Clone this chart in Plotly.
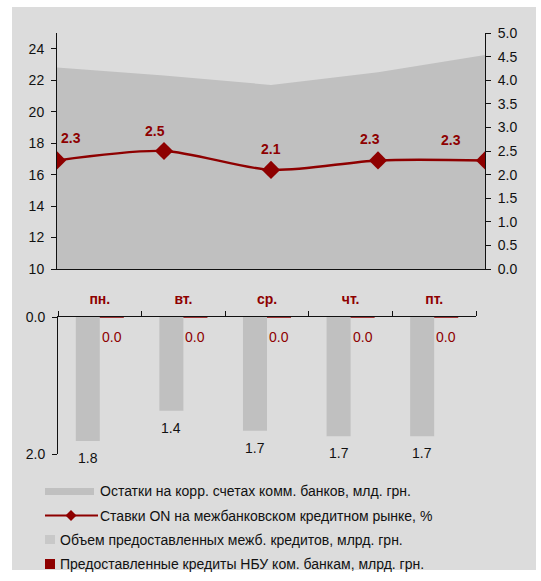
import plotly.graph_objects as go

# ---------------- data ----------------
days = ["пн.", "вт.", "ср.", "чт.", "пт."]
balances = [22.8, 22.3, 21.7, 22.5, 23.6]          # Остатки на корр. счетах, млрд грн (left axis)
on_rates = [2.3, 2.5, 2.1, 2.3, 2.3]               # Ставки ON, % (right axis)
interbank_volume = [1.81, 1.37, 1.66, 1.74, 1.74]  # Объем межб. кредитов
nbu_credits = [0.0, 0.0, 0.0, 0.0, 0.0]            # Кредиты НБУ

left_ticks = [10, 12, 14, 16, 18, 20, 22, 24]
right_ticks = [0.0, 0.5, 1.0, 1.5, 2.0, 2.5, 3.0, 3.5, 4.0, 4.5, 5.0]

legend_labels = [
    "Остатки на корр. счетах комм. банков, млд. грн.",
    "Ставки ON на межбанковском кредитном рынке, %",
    "Объем предоставленных межб. кредитов, млрд. грн.",
    "Предоставленные кредиты НБУ ком. банкам, млрд. грн.",
]

# ---------------- style ----------------
W, H = 541, 581
RED = "#8e0000"
AREA = "#c0c0c0"
PANEL = "#dcdcdc"
FONT = "Liberation Sans, Arial, sans-serif"


def px(x):
    return x / W


def py(y):
    return 1 - y / H


fig = go.Figure()

# top chart: area on left axis
fig.add_trace(go.Scatter(
    x=days, y=balances, xaxis="x", yaxis="y",
    mode="lines", fill="tozeroy", fillcolor=AREA,
    line=dict(width=0, color=AREA), showlegend=False, hoverinfo="skip"))

# top chart: ON rate line on right axis
fig.add_trace(go.Scatter(
    x=days, y=on_rates, xaxis="x", yaxis="y2",
    mode="lines+markers", line=dict(color=RED, width=2.4, shape="spline", smoothing=0.8),
    marker=dict(symbol="diamond", size=14, color=RED),
    showlegend=False, hoverinfo="skip"))

# bottom chart bars
fig.add_trace(go.Bar(
    x=days, y=interbank_volume, xaxis="x2", yaxis="y4",
    marker=dict(color=AREA, line=dict(width=0)), showlegend=False, hoverinfo="skip"))
fig.add_trace(go.Bar(
    x=days, y=nbu_credits, xaxis="x2", yaxis="y4",
    marker=dict(color=RED, line=dict(width=1.5, color=RED)), showlegend=False, hoverinfo="skip"))

annotations = []
# labels on the line
label_offsets = [(14, 22), (-9, 20), (0, 21), (-8, 21), (-34, 20)]
for d, v, (dx, dy) in zip(days, on_rates, label_offsets):
    annotations.append(dict(x=d, y=v, xref="x", yref="y2", text=f"{v:.1f}",
                            showarrow=False, xshift=dx, yshift=dy,
                            font=dict(family=FONT, size=14, color=RED, weight="bold")))
# bar labels
for d, v in zip(days, interbank_volume):
    annotations.append(dict(x=d, y=v, xref="x2", yref="y4", text=f"{v:.1f}",
                            showarrow=False, xshift=-12, yshift=-17,
                            font=dict(family=FONT, size=14, color="#111111")))
for d, v in zip(days, nbu_credits):
    annotations.append(dict(x=d, y=v, xref="x2", yref="y4", text=f"{v:.1f}",
                            showarrow=False, xshift=12, yshift=-20,
                            font=dict(family=FONT, size=14, color=RED)))

# manual legend
shapes = [
    dict(type="rect", xref="paper", yref="paper", x0=px(12), x1=px(536), y0=py(570), y1=py(7),
         fillcolor=PANEL, line=dict(width=0), layer="below"),
    dict(type="rect", xref="paper", yref="paper", x0=px(45), x1=px(94), y0=py(495), y1=py(488),
         fillcolor=AREA, line=dict(width=0)),
    dict(type="line", xref="paper", yref="paper", x0=px(45), x1=px(98), y0=py(515.5), y1=py(515.5),
         line=dict(color=RED, width=2)),
    dict(type="path", xref="paper", yref="paper",
         path=f"M {px(71)},{py(510)} L {px(76.5)},{py(515.5)} L {px(71)},{py(521)} L {px(65.5)},{py(515.5)} Z",
         fillcolor=RED, line=dict(width=0)),
    dict(type="rect", xref="paper", yref="paper", x0=px(45), x1=px(55), y0=py(544), y1=py(535),
         fillcolor="#c8c8c8", line=dict(width=0)),
    dict(type="rect", xref="paper", yref="paper", x0=px(45), x1=px(55), y0=py(569), y1=py(559),
         fillcolor=RED, line=dict(width=0)),
]
legend_pos = [(98, 491), (98, 515.5), (58, 539.5), (58, 564)]
for lab, (lx, ly) in zip(legend_labels, legend_pos):
    annotations.append(dict(x=px(lx), y=py(ly), xref="paper", yref="paper", text=lab,
                            xanchor="left", yanchor="middle", showarrow=False,
                            font=dict(family=FONT, size=14, color="#111111")))

axis_font = dict(family=FONT, size=14, color="#111111")

fig.update_layout(
    width=W, height=H, autosize=False,
    margin=dict(l=0, r=0, t=0, b=0, pad=0, autoexpand=False),
    paper_bgcolor="white", plot_bgcolor="rgba(0,0,0,0)",
    font=dict(family=FONT),
    barmode="group", bargap=0.425, bargroupgap=0,
    shapes=shapes, annotations=annotations,
    xaxis=dict(domain=[px(57), px(485)], anchor="y", type="category", automargin=False,
               range=[0, len(days) - 1], showticklabels=False, ticks="",
               showline=True, linecolor="#111111", linewidth=1, showgrid=False, zeroline=False),
    yaxis=dict(domain=[py(269), py(33)], anchor="x", range=[10, 25], tickvals=left_ticks,
               ticks="outside", ticklen=5, tickcolor="#111111", showline=True, automargin=False,
               linecolor="#111111", linewidth=1, showgrid=False, zeroline=False,
               tickfont=axis_font, ticklabelstandoff=4),
    yaxis2=dict(overlaying="y", side="right", anchor="x", range=[0, 5], tickvals=right_ticks,
                tickformat=".1f", ticks="outside", ticklen=5, tickcolor="#111111", automargin=False,
                showline=True, linecolor="#111111", linewidth=1, showgrid=False,
                zeroline=False, tickfont=axis_font, ticklabelstandoff=4),
    yaxis3=dict(overlaying="y", side="right", anchor="x", range=[0, 5], tickvals=right_ticks,
                ticks="inside", ticklen=5, tickcolor="#111111", showticklabels=False,
                automargin=False, showline=False, showgrid=False, zeroline=False),
    xaxis2=dict(domain=[px(58), px(476)], anchor="y4", type="category", side="top",
                tickson="boundaries", ticks="outside", ticklen=5, tickcolor="#111111",
                showline=True, linecolor="#111111", linewidth=1, showgrid=False, automargin=False,
                tickfont=dict(family=FONT, size=14, color=RED, weight="bold"),
                ticklabelstandoff=6),
    yaxis4=dict(domain=[py(454), py(317)], anchor="x2", range=[2, 0], tickvals=[0, 2],
                ticktext=["0.0", "2.0"], ticks="outside", ticklen=5, tickcolor="#111111",
                showline=True, linecolor="#111111", linewidth=1, showgrid=False, automargin=False,
                zeroline=False, tickfont=axis_font, ticklabelstandoff=4),
)

fig.write_html("out.html", config={"displayModeBar": False},
               post_script="document.body.style.margin='0';document.body.style.overflow='hidden';")
